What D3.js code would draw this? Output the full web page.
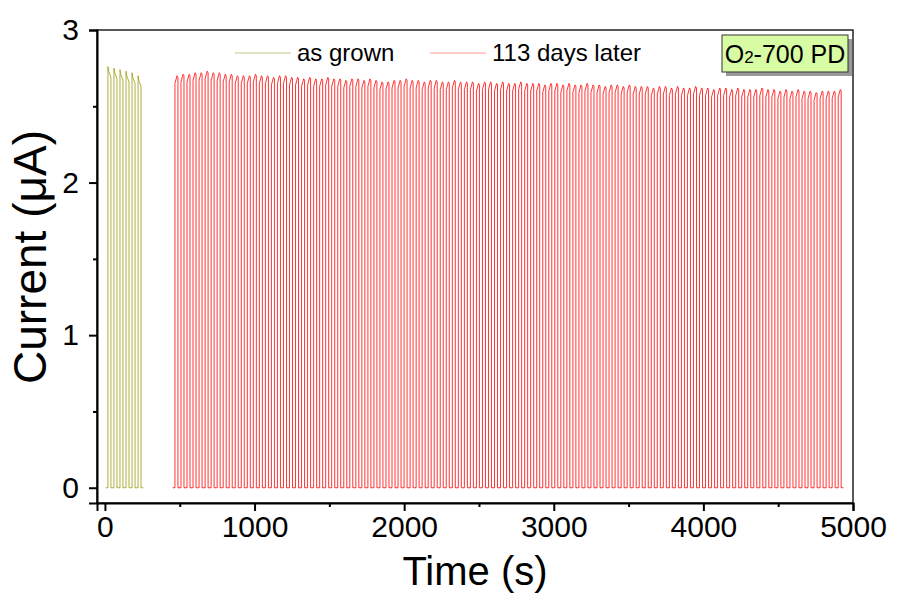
<!DOCTYPE html>
<html>
<head>
<meta charset="utf-8">
<script src="https://cdnjs.cloudflare.com/ajax/libs/d3/7.8.5/d3.min.js"></script>
<style>
  body { margin: 0; background: #fff; }
  svg text { font-family: "Liberation Sans", Arial, sans-serif; fill: #000; }
</style>
</head>
<body>
<script>
var lightOn = 20,
    period = 40.3;

// as grown: pulse start times (s) and peak currents (uA)
var grownStart = 20;
var grownPeaks = [2.76, 2.75, 2.74, 2.73, 2.72, 2.70];

// 113 days later
var laterStart = 468;
var laterPeaks = [
  2.70, 2.71, 2.71, 2.72, 2.72, 2.73, 2.72, 2.72, 2.71, 2.71,
  2.70, 2.70, 2.70, 2.71, 2.70, 2.70, 2.69, 2.70, 2.70, 2.69,
  2.69, 2.68, 2.69, 2.68, 2.68, 2.69, 2.68, 2.68, 2.67, 2.68,
  2.68, 2.67, 2.68, 2.67, 2.66, 2.66, 2.67, 2.67, 2.68, 2.67,
  2.67, 2.66, 2.67, 2.67, 2.66, 2.66, 2.67, 2.66, 2.66, 2.66,
  2.65, 2.66, 2.66, 2.65, 2.66, 2.65, 2.65, 2.66, 2.65, 2.65,
  2.65, 2.64, 2.65, 2.65, 2.64, 2.65, 2.64, 2.64, 2.65, 2.64,
  2.64, 2.63, 2.64, 2.64, 2.63, 2.64, 2.63, 2.63, 2.63, 2.62,
  2.63, 2.63, 2.62, 2.63, 2.62, 2.62, 2.63, 2.62, 2.62, 2.61,
  2.62, 2.62, 2.61, 2.62, 2.61, 2.61, 2.61, 2.62, 2.61, 2.61,
  2.60, 2.61, 2.60, 2.61, 2.60, 2.60, 2.59, 2.60, 2.60, 2.60, 2.61
];

var xTicks = [0, 1000, 2000, 3000, 4000, 5000];
var yTicks = [0, 1, 2, 3];

var width = 897,
    height = 601;

var x = d3.scaleLinear().domain([-53, 5000]).range([97, 853]);
var y = d3.scaleLinear().domain([-0.1, 3]).range([503, 30]);

var svg = d3.select("body").append("svg")
    .attr("width", width)
    .attr("height", height);

// turn peaks into on/off square-ish pulses
function pulses(start, peaks, rising) {
    var pts = [[start - 15, 0]];
    peaks.forEach(function (p, i) {
        var t0 = start + i * period;
        pts.push([t0, 0]);
        if (rising) {
            pts.push([t0, p - 0.05]);
            pts.push([t0 + lightOn * 0.7, p]);
            pts.push([t0 + lightOn, p - 0.01]);
        } else {
            pts.push([t0, p]);
            pts.push([t0 + lightOn * 0.25, p - 0.03]);
            pts.push([t0 + lightOn, p - 0.07]);
        }
        pts.push([t0 + lightOn, 0]);
    });
    var last = start + (peaks.length - 1) * period + lightOn;
    pts.push([last + 15, 0]);
    return pts;
}

var line = d3.line()
    .x(function (d) { return x(d[0]); })
    .y(function (d) { return y(d[1]); });

svg.append("path")
    .datum(pulses(grownStart, grownPeaks, false))
    .attr("d", line)
    .attr("fill", "none")
    .attr("stroke", "#9a9a10")
    .attr("stroke-width", 0.8);

svg.append("path")
    .datum(pulses(laterStart, laterPeaks, true))
    .attr("d", line)
    .attr("fill", "none")
    .attr("stroke", "#ff0000")
    .attr("stroke-width", 0.8);

// frame
svg.append("rect")
    .attr("x", 97).attr("y", 30)
    .attr("width", 756).attr("height", 473)
    .attr("fill", "none")
    .attr("stroke", "#222")
    .attr("stroke-width", 1.5);

// axes
svg.append("g")
    .attr("transform", "translate(0,503)")
    .call(d3.axisBottom(x).tickValues(xTicks).tickSize(8).tickPadding(5).tickFormat(d3.format("d")));
svg.append("g")
    .attr("transform", "translate(0,503)")
    .call(d3.axisBottom(x).tickValues([500, 1500, 2500, 3500, 4500]).tickSize(4).tickFormat(""))
    .select(".domain").remove();

svg.append("g")
    .attr("transform", "translate(97,0)")
    .call(d3.axisLeft(y).tickValues(yTicks).tickSize(8).tickPadding(10).tickFormat(d3.format("d")));
svg.append("g")
    .attr("transform", "translate(97,0)")
    .call(d3.axisLeft(y).tickValues([0.5, 1.5, 2.5]).tickSize(4).tickFormat(""))
    .select(".domain").remove();

svg.selectAll(".domain").attr("stroke", "#000").attr("stroke-width", 2);
svg.selectAll(".tick line").attr("stroke", "#000").attr("stroke-width", 2);
svg.selectAll(".tick text").style("font-size", "30px").style("font-family", "Liberation Sans, Arial, sans-serif");

// axis titles
svg.append("text")
    .attr("x", 475).attr("y", 585)
    .attr("text-anchor", "middle")
    .style("font-size", "40px")
    .text("Time (s)");

svg.append("text")
    .attr("transform", "translate(46,257) rotate(-90)")
    .attr("text-anchor", "middle")
    .style("font-size", "46px")
    .text("Current (\u03bcA)");

// legend
var legend = [
    { label: "as grown", color: "#c4c88c", x: 235 },
    { label: "113 days later", color: "#ff9a9a", x: 430 }
];
legend.forEach(function (d) {
    svg.append("line")
        .attr("x1", d.x).attr("x2", d.x + 56)
        .attr("y1", 53).attr("y2", 53)
        .attr("stroke", d.color)
        .attr("stroke-width", 1.2);
    svg.append("text")
        .attr("x", d.x + 62).attr("y", 61)
        .style("font-size", "24px")
        .text(d.label);
});

// sample label box
svg.append("rect")
    .attr("x", 726).attr("y", 39)
    .attr("width", 126).attr("height", 37)
    .attr("fill", "#999");
svg.append("rect")
    .attr("x", 722).attr("y", 35)
    .attr("width", 126).attr("height", 37)
    .attr("fill", "#d8fca4")
    .attr("stroke", "#333")
    .attr("stroke-width", 1);
var lbl = svg.append("text")
    .attr("x", 785).attr("y", 63)
    .attr("text-anchor", "middle")
    .style("font-size", "25px");
lbl.append("tspan").text("O");
lbl.append("tspan").style("font-size", "17px").text("2");
lbl.append("tspan").text("-700 PD");
</script>
</body>
</html>
